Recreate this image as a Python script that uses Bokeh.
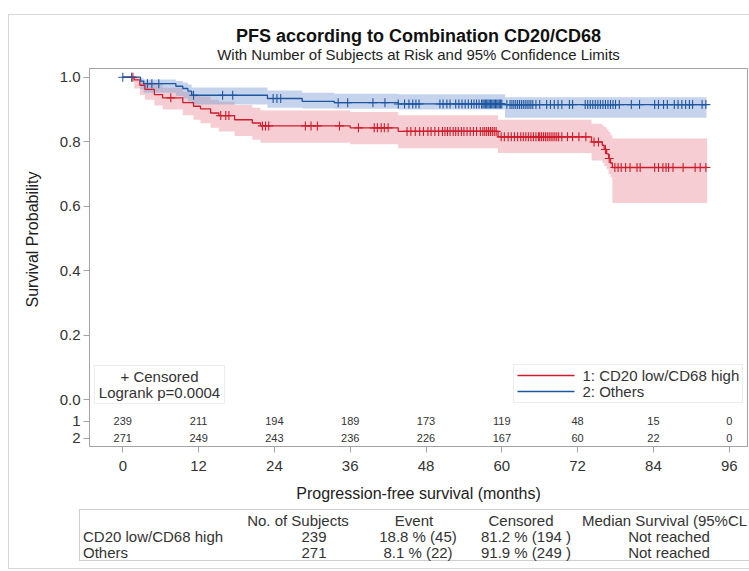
import numpy as np
from bokeh.plotting import figure
from bokeh.layouts import column
from bokeh.models import (Label, BoxAnnotation, FixedTicker, Range1d, ColumnDataSource, Title, Div)
from bokeh.core.properties import value
from bokeh.embed import file_html
from bokeh.resources import INLINE

# ---------------- data ----------------
title = "PFS according to Combination CD20/CD68"
subtitle = "With Number of Subjects at Risk and 95% Confidence Limits"
group_names = ["1: CD20 low/CD68 high", "2: Others"]

# Group 1: CD20 low/CD68 high  (KM steps: time in months, survival, 95% CL)
red_t = [0, 1.8, 2.7, 3.5, 5.0, 6.3, 9.5, 11.2, 12.3, 13.9, 15.2, 17.7, 20.5, 21.8,
         36.0, 43.6, 59.4, 74.2, 75.9, 76.2, 76.6, 76.9, 77.2, 77.5]
red_s = [1.0, 0.992, 0.975, 0.962, 0.946, 0.936, 0.921, 0.910, 0.902, 0.889, 0.881,
         0.868, 0.858, 0.849, 0.843, 0.832, 0.815, 0.799, 0.789, 0.776, 0.762, 0.748,
         0.734, 0.720]
red_lo = [1.0, 0.965, 0.945, 0.930, 0.912, 0.900, 0.882, 0.868, 0.857, 0.843, 0.832,
          0.818, 0.806, 0.797, 0.792, 0.780, 0.765, 0.742, 0.735, 0.725, 0.715, 0.700,
          0.690, 0.610]
red_up = [1.0, 0.998, 0.990, 0.984, 0.975, 0.967, 0.955, 0.946, 0.940, 0.930, 0.924,
          0.914, 0.905, 0.897, 0.892, 0.882, 0.868, 0.856, 0.850, 0.845, 0.838, 0.830,
          0.820, 0.810]
red_end = 92.5
red_cens = [1.6, 7.6, 15.5, 16.3, 16.8, 22.1, 22.6, 23.1, 28.9, 29.8, 30.8, 34.3, 37.3,
            39.8, 40.3, 40.9, 41.4, 42.0, 45.0, 45.6, 46.3, 47.0, 47.6, 48.3, 48.8, 49.4,
            50.0, 50.6, 51.0, 51.4, 51.8, 52.3, 52.7, 53.1, 53.6, 54.0, 54.5, 55.0, 55.5,
            56.0, 56.6, 57.0, 57.3, 57.6, 57.9, 58.2, 58.5, 58.8, 59.1, 59.9, 60.4, 61.0,
            61.5, 62.0, 62.5, 63.0, 63.4, 63.8, 64.2, 64.6, 65.0, 65.4, 65.8, 66.0, 66.3,
            66.6, 66.9, 67.2, 67.5, 67.8, 68.1, 68.4, 68.7, 69.0, 69.5, 70.4, 71.2, 72.2,
            73.3, 74.6, 75.3, 76.4, 77.0, 77.9, 78.4, 78.9, 79.6, 80.3, 81.4, 81.9, 84.2,
            84.8, 85.5, 86.0, 86.4, 87.1, 88.7, 90.6, 91.4, 92.3]

# Group 2: Others
blue_t = [0, 2.8, 3.3, 8.4, 9.5, 10.3, 10.9, 22.9, 28.4, 33.5, 43.6, 60.5]
blue_s = [1.0, 0.988, 0.980, 0.972, 0.965, 0.957, 0.944, 0.934, 0.925, 0.921, 0.917, 0.915]
blue_lo = [1.0, 0.962, 0.952, 0.942, 0.934, 0.925, 0.915, 0.905, 0.903, 0.902, 0.900, 0.874]
blue_up = [1.0, 0.997, 0.993, 0.988, 0.983, 0.977, 0.968, 0.959, 0.952, 0.949, 0.947, 0.938]
blue_end = 92.4
blue_cens = [0.0, 1.4, 3.9, 4.6, 5.7, 11.2, 15.8, 17.4, 23.8, 24.4, 25.0, 34.1, 35.6, 39.6,
             41.5, 43.6, 44.6, 45.3, 45.9, 46.4, 46.9, 50.2, 50.7, 51.3, 51.8, 52.7, 53.2,
             53.7, 54.2, 54.7, 55.2, 55.6, 56.0, 56.4, 56.8, 57.0, 57.2, 57.4, 57.6, 57.8,
             58.0, 58.2, 58.4, 58.6, 58.8, 59.0, 59.2, 59.4, 59.6, 59.8, 60.0, 60.8, 61.3,
             61.6, 61.9, 62.2, 62.5, 62.8, 63.1, 63.4, 63.7, 64.0, 64.3, 64.6, 64.9, 65.4,
             66.0, 67.1, 67.7, 68.3, 68.9, 69.5, 70.7, 71.2, 73.2, 73.6, 74.0, 74.4, 74.8,
             75.2, 75.6, 76.0, 76.4, 76.8, 77.2, 77.6, 78.0, 78.6, 80.5, 81.8, 84.2, 84.8,
             85.6, 86.2, 87.3, 87.9, 88.5, 89.1, 89.7, 90.2, 91.7, 92.3]

# Number at risk
risk_times = [0, 12, 24, 36, 48, 60, 72, 84, 96]
risk_g1 = [239, 211, 194, 189, 173, 119, 48, 15, 0]
risk_g2 = [271, 249, 243, 236, 226, 167, 60, 22, 0]
risk_row_labels = ["1", "2"]

x_ticks = [0, 12, 24, 36, 48, 60, 72, 84, 96]
y_ticks = [0.0, 0.2, 0.4, 0.6, 0.8, 1.0]
y_tick_labels = ["0.0", "0.2", "0.4", "0.6", "0.8", "1.0"]

# Summary table
tbl_header = ["No. of Subjects", "Event", "Censored", "Median Survival (95%CL"]
tbl_rows = ["CD20 low/CD68 high", "Others"]
tbl_subjects = ["239", "271"]
tbl_event = ["18.8 % (45)", "8.1 % (22)"]
tbl_censored = ["81.2 % (194 )", "91.9 % (249 )"]
tbl_median = ["Not reached", "Not reached"]

# ---------------- styling ----------------
FONT = "Liberation Sans"
RED = "#d01c2b"
BLUE = "#1f56a0"
RED_FILL = "#e8919c"
BLUE_FILL = "#7f9fd4"
FRAME = "#a3a3a3"
TXT = "#333333"

W = 749
HEAD_H = 66
MAIN_H = 506
TBL_H = 571 - MAIN_H

# layout mapping of reference pixels to data units (for annotation placement)
X0_PX, X_PX_PER = 122.3, 6.317
Y0_PX, Y_PX_PER = 399.2, 322.5
def px2x(px):
    return (px - X0_PX) / X_PX_PER
def py2y(py):
    return (Y0_PX - py) / Y_PX_PER

FR_L, FR_R, FR_T, FR_B = 89, 747, 68, 446

# ---------------- header (title + subtitle), page-pixel coordinates ----------------
h = figure(width=W, height=HEAD_H, output_backend="svg", toolbar_location=None, title=None,
           x_range=Range1d(FR_L, FR_R), y_range=Range1d(HEAD_H, 0),
           x_axis_type=None, y_axis_type=None,
           min_border_left=FR_L, min_border_right=W - FR_R, min_border_top=0,
           min_border_bottom=0, background_fill_color="white", border_fill_color="white")
h.grid.visible = False
h.outline_line_color = None
mid = (FR_L + FR_R) / 2
h.text(x=[mid], y=[35], text=[title], text_font=value(FONT), text_font_size="18px",
       text_font_style="bold", text_color="#111111", text_align="center",
       text_baseline="middle")
h.text(x=[mid], y=[54], text=[subtitle], text_font=value(FONT), text_font_size="15px",
       text_color="#222222", text_align="center", text_baseline="middle")

# ---------------- main plot ----------------
P_H = MAIN_H - HEAD_H
p = figure(width=W, height=P_H, output_backend="svg", toolbar_location=None, title=None,
           x_range=Range1d(px2x(FR_L), px2x(FR_R)), y_range=Range1d(py2y(FR_B), py2y(FR_T)),
           min_border_left=FR_L, min_border_right=W - FR_R, min_border_top=FR_T - HEAD_H,
           min_border_bottom=MAIN_H - FR_B,
           background_fill_color="white", border_fill_color="white")
p.grid.visible = False
p.outline_line_color = FRAME
p.outline_line_width = 1

for ax in (p.xaxis, p.yaxis):
    ax.axis_line_color = FRAME
    ax.major_tick_line_color = FRAME
    ax.minor_tick_line_color = None
    ax.major_tick_out = 6
    ax.major_tick_in = 0
    ax.major_label_text_font = FONT
    ax.major_label_text_font_size = "15px"
    ax.major_label_text_color = TXT
p.xaxis.ticker = FixedTicker(ticks=x_ticks)
p.xaxis.major_label_standoff = 8
p.xaxis.axis_label = "Progression-free survival (months)"
p.xaxis.axis_label_text_font = FONT
p.xaxis.axis_label_text_font_size = "16px"
p.xaxis.axis_label_text_font_style = "normal"
p.xaxis.axis_label_text_color = "#222222"
p.xaxis.axis_label_standoff = 11

# y axis: survival ticks plus the two at-risk row labels
row_y = [py2y(420.5), py2y(437.5)]
p.yaxis.ticker = FixedTicker(ticks=row_y + y_ticks)
overrides = {t: s for t, s in zip(y_ticks, y_tick_labels)}
overrides.update({t: s for t, s in zip(row_y, risk_row_labels)})
p.yaxis.major_label_overrides = overrides
p.yaxis.major_label_standoff = 3

# y-axis label: starts (bottom of rotated text) 139 px above the frame bottom
p.add_layout(Title(text="Survival Probability", align="left", offset=139, text_font=FONT,
                   text_font_size="16px", text_font_style="normal", text_color="#222222",
                   standoff=32), "left")

# ---------------- confidence bands ----------------
def ext(t, v, end):
    return list(t) + [end], list(v) + [v[-1]]

rx, rlo = ext(red_t, red_lo, red_end)
_, rup = ext(red_t, red_up, red_end)
bx, blo = ext(blue_t, blue_lo, blue_end)
_, bup = ext(blue_t, blue_up, blue_end)
p.varea_step(x=rx, y1=rlo, y2=rup, step_mode="after", fill_color=RED_FILL, fill_alpha=0.45)
p.varea_step(x=bx, y1=blo, y2=bup, step_mode="after", fill_color=BLUE_FILL, fill_alpha=0.45)

# ---------------- KM curves ----------------
rx2, rs2 = ext(red_t, red_s, red_end)
bx2, bs2 = ext(blue_t, blue_s, blue_end)
p.step(x=rx2, y=rs2, mode="after", line_color=RED, line_width=1.3)
p.step(x=bx2, y=bs2, mode="after", line_color=BLUE, line_width=1.3)

def surv_at(times, surv, c):
    idx = np.searchsorted(np.asarray(times), np.asarray(c), side="right") - 1
    return list(np.asarray(surv)[idx])

p.scatter(x=red_cens, y=surv_at(red_t, red_s, red_cens), marker="cross", size=9,
          line_color=RED, line_width=1.1)
p.scatter(x=blue_cens, y=surv_at(blue_t, blue_s, blue_cens), marker="cross", size=9,
          line_color=BLUE, line_width=1.1)

# ---------------- number at risk ----------------
for counts, ry in zip((risk_g1, risk_g2), row_y):
    src = ColumnDataSource(dict(x=risk_times, y=[ry] * len(risk_times),
                                t=[str(v) for v in counts]))
    p.text(x="x", y="y", text="t", source=src, text_font=value(FONT),
           text_font_size="11px", text_color=TXT, text_align="center",
           text_baseline="middle")

def lab(px, py, text, size="15px", align="center"):
    p.add_layout(Label(x=px2x(px), y=py2y(py), text=text, text_font=FONT,
                       text_font_size=size, text_color=TXT,
                       text_align=align, text_baseline="middle"))

# ---------------- censored / logrank box ----------------
p.add_layout(BoxAnnotation(left=px2x(94), right=px2x(224), top=py2y(365), bottom=py2y(403),
                           fill_color="white", fill_alpha=1, line_color="#c4c4c4",
                           line_width=1, level="underlay"))
lab(159, 376, "+ Censored")
lab(159, 392, "Logrank p=0.0004")

# ---------------- legend ----------------
p.add_layout(BoxAnnotation(left=px2x(513), right=px2x(742), top=py2y(364), bottom=py2y(402),
                           fill_color="white", fill_alpha=1, line_color="#c4c4c4",
                           line_width=1, level="underlay"))
p.segment(x0=[px2x(517)] * 2, x1=[px2x(574)] * 2, y0=[py2y(375), py2y(391)],
          y1=[py2y(375), py2y(391)], line_color=[RED, BLUE], line_width=1.3)
lab(582, 375, group_names[0], align="left")
lab(582, 391, group_names[1], align="left")

# ---------------- summary table (HTML block below the plot) ----------------
def cell(x, y, text, align="center"):
    tx = "-50%" if align == "center" else "0"
    return (f'<span style="position:absolute;left:{x}px;top:{y - MAIN_H}px;'
            f'transform:translate({tx},-50%);white-space:nowrap;line-height:1;">{text}</span>')

head_x = [298, 414, 521, 582]
head_align = ["center", "center", "center", "left"]
col_x = [314, 418, 526, 669]
row_py = [536, 552]
parts = [f'<div style="position:relative;width:{W}px;height:{TBL_H}px;'
         f"font-family:'{FONT}',Arial,sans-serif;font-size:15px;color:{TXT};\">"]
# outer frame of the whole graphic (left/top/bottom edges visible in the reference)
parts.append(f'<div style="position:absolute;left:8px;top:{14 - MAIN_H}px;width:{W + 20}px;'
             f'height:{569 - 14}px;border:1px solid #d8d8d8;box-sizing:border-box;'
             f'pointer-events:none;"></div>')
parts.append(f'<div style="position:absolute;left:79px;top:{509 - MAIN_H}px;width:{W}px;'
             f'height:{561 - 509}px;border:1px solid #cfcfcf;box-sizing:border-box;"></div>')
for hx, hd, al in zip(head_x, tbl_header, head_align):
    parts.append(cell(hx, 520, hd, al))
for i, ry in enumerate(row_py):
    parts.append(cell(83, ry, tbl_rows[i], "left"))
    for cx, colvals in zip(col_x, (tbl_subjects, tbl_event, tbl_censored, tbl_median)):
        parts.append(cell(cx, ry, colvals[i]))
parts.append("</div>")
table = Div(text="".join(parts), width=W, height=TBL_H, margin=0,
            styles={"overflow": "visible"})

layout = column(h, p, table, spacing=0)
open("out.html", "w").write(file_html(layout, INLINE))
